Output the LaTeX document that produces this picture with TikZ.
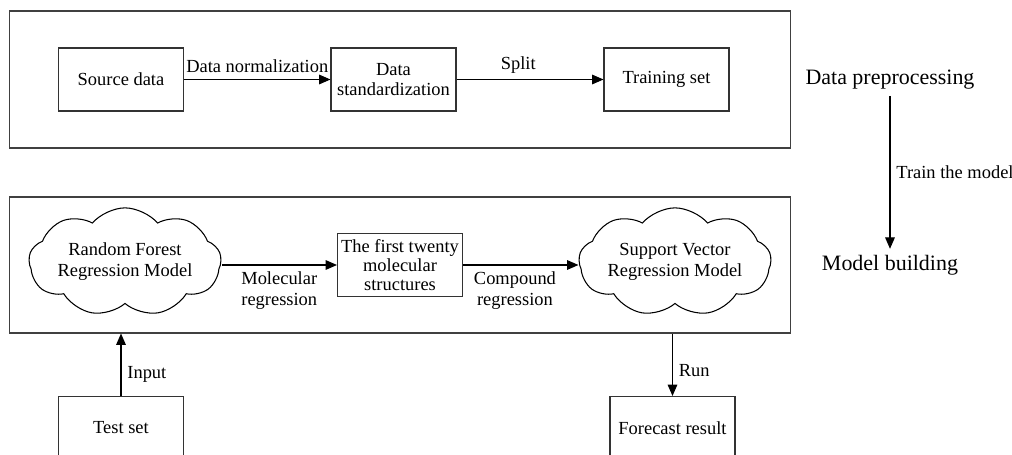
\documentclass[tikz,border=0pt]{standalone}
\usepackage{fontspec}
\setmainfont{Liberation Serif}
\usetikzlibrary{arrows.meta,shapes.symbols}

\tikzset{
  stage/.style={draw=black!80, line width=0.6pt, minimum width=2.5cm, minimum height=1.26cm,
    inner sep=1pt, align=center, font=\fontsize{10.5}{11.6}\selectfont},
  frame/.style={draw=black!75, line width=0.6pt, inner sep=0pt},
  puff/.style={cloud, draw, line width=0.6pt, cloud puffs=9, cloud puff arc=100, aspect=2.3,
    minimum width=3.45cm, minimum height=1.5cm, inner sep=0pt, align=center,
    font=\fontsize{10.5}{12}\selectfont},
  flow/.style={-{Triangle[length=6.5pt,width=5.5pt]}, line width=0.6pt},
  lbl/.style={font=\fontsize{10.5}{12}\selectfont, align=center},
  phase/.style={font=\fontsize{12.5}{14}\selectfont}
}

\begin{document}
\begin{tikzpicture}[x=0.02cm,y=-0.02cm]
  \clip (0,0) rectangle (1012,455);
  % frames
  \node[frame, minimum width=15.64cm, minimum height=2.74cm] (prep) at (400,79.5) {};
  \node[frame, minimum width=15.64cm, minimum height=2.72cm] (build) at (400,265) {};
  % data preprocessing
  \node[stage] (source) at (121,79.5) {Source data};
  \node[stage] (std) at (393.5,79.5) {Data\\standardization};
  \node[stage] (train) at (666.5,79.5) {Training set};
  \draw[flow] (source) -- node[lbl,above,pos=0.5] {Data normalization} (std);
  \draw[flow] (std) -- node[lbl,above,pos=0.42] {Split} (train);
  % model building
  \node[puff] (rf) at (125,262) {Random Forest\\Regression Model};
  \node[stage, inner sep=0pt, font=\fontsize{10.5}{10.8}\selectfont] (twenty) at (400,265) {The first twenty\\molecular\\structures};
  \node[puff] (svr) at (675,262) {Support Vector\\Regression Model};
  \draw[flow] (rf.east |- twenty) -- node[lbl,below,pos=0.5] {Molecular\\regression} (twenty);
  \draw[flow] (twenty) -- node[lbl,below,pos=0.45] {Compound\\regression} (svr.west |- twenty);
  % test and forecast
  \node[stage] (test) at (121,428) {Test set};
  \node[stage] (forecast) at (672.5,428) {Forecast result};
  \draw[flow] (test) -- node[lbl,right,pos=0.35] {Input} (test |- build.south);
  \draw[flow] (forecast |- build.south) -- node[lbl,right,pos=0.6] {Run} (forecast);
  % phases
  \node[phase] (dp) at (890,80) {Data preprocessing};
  \node[phase] (mb) at (890,265) {Model building};
  \draw[flow] (dp) -- node[lbl,right] {Train the model} (mb);
\end{tikzpicture}
\end{document}
